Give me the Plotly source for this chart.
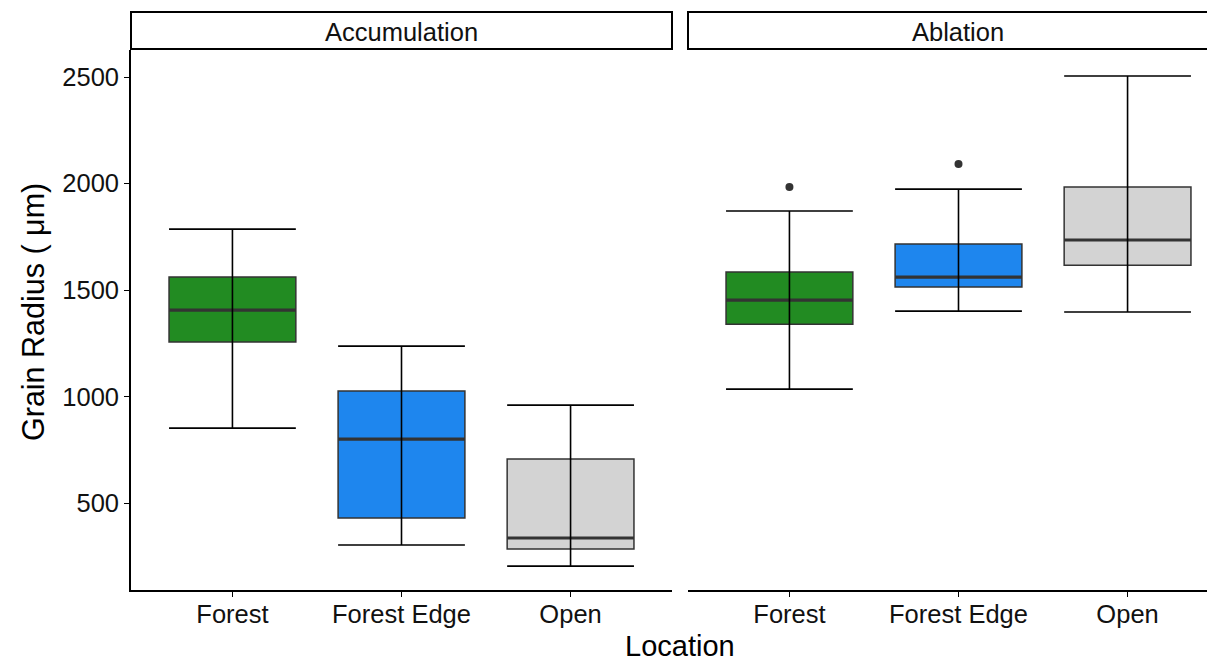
import plotly.graph_objects as go

# ---- data ----
panels = ["Accumulation", "Ablation"]
locations = ["Forest", "Forest Edge", "Open"]
colors = ["#228B22", "#1E86EE", "#D3D3D3"]
y_ticks = [500, 1000, 1500, 2000, 2500]

acc_low = [852, 303, 204]
acc_q1 = [1256, 430, 284]
acc_med = [1406, 800, 336]
acc_q3 = [1561, 1026, 707]
acc_high = [1786, 1237, 960]
acc_out_x = []
acc_out_y = []

abl_low = [1035, 1401, 1397]
abl_q1 = [1340, 1514, 1617]
abl_med = [1453, 1561, 1735]
abl_q3 = [1585, 1716, 1984]
abl_high = [1871, 1974, 2505]
abl_out_x = [1, 2]
abl_out_y = [1984, 2092]

# page has an 8px body margin: compensate so the plot lands where the reference has it
OFF = 8
W, H = 1215 - OFF, 661 - OFF
ML, MR, MT, MB = 131 - OFF, 0, 50 - OFF, 71
PW = W - ML - MR
PH = H - MT - MB
px_unit = 541 / 3.2
d1 = [0, 541 / PW]
d2 = [(688 - 131) / PW, 1]
x2max = 0.4 + (1215 - 688) / px_unit

fig = go.Figure()
xs = [1, 2, 3]
box_w = 0.75
cap_px = box_w * px_unit / 2

data = [
    (acc_low, acc_q1, acc_med, acc_q3, acc_high, acc_out_x, acc_out_y, "x", "y"),
    (abl_low, abl_q1, abl_med, abl_q3, abl_high, abl_out_x, abl_out_y, "x2", "y2"),
]
for low, q1, med, q3, high, ox, oy, xa, ya in data:
    for i in range(3):
        fig.add_trace(go.Box(
            x=[xs[i]], q1=[q1[i]], median=[med[i]], q3=[q3[i]],
            lowerfence=[q1[i]], upperfence=[q3[i]],
            width=box_w, fillcolor=colors[i],
            line=dict(color="#333333", width=1.5),
            whiskerwidth=0, boxpoints=False, showlegend=False,
            xaxis=xa, yaxis=ya, hoverinfo="skip"))
    # thick median
    fig.add_trace(go.Scatter(
        x=xs, y=med, mode="markers", marker=dict(size=0.1, color="rgba(0,0,0,0)"),
        error_x=dict(type="constant", value=box_w / 2, width=0, thickness=3.2, color="#333333"),
        showlegend=False, xaxis=xa, yaxis=ya, hoverinfo="skip"))
    # whiskers with caps
    fig.add_trace(go.Scatter(
        x=xs, y=med, mode="markers", marker=dict(size=0.1, color="rgba(0,0,0,0)"),
        error_y=dict(type="data", symmetric=False,
                     array=[high[i] - med[i] for i in range(3)],
                     arrayminus=[med[i] - low[i] for i in range(3)],
                     width=cap_px, thickness=1.6, color="black"),
        showlegend=False, xaxis=xa, yaxis=ya, hoverinfo="skip"))
    if ox:
        fig.add_trace(go.Scatter(
            x=ox, y=oy, mode="markers", marker=dict(size=8, color="#333333"),
            showlegend=False, xaxis=xa, yaxis=ya, hoverinfo="skip"))

font = "Liberation Sans, Arial, sans-serif"
tfs = 25.5
yr = [92, 2627]
xaxis_common = dict(range=[0.4, 3.6], tickvals=xs, ticktext=locations,
                    showline=True, linecolor="black", linewidth=1.8,
                    ticks="outside", ticklen=5, tickcolor="black", tickwidth=1.4,
                    ticklabelstandoff=-5,
                    showgrid=False, zeroline=False,
                    tickfont=dict(size=tfs, color="#111111", family=font))
fig.update_layout(
    width=W, height=H,
    margin=dict(l=ML, r=MR, t=MT, b=MB),
    paper_bgcolor="white", plot_bgcolor="white",
    font=dict(family=font),
    xaxis=dict(domain=d1, anchor="y", **xaxis_common),
    xaxis2=dict(domain=d2, anchor="y2", **{**xaxis_common, "range": [0.4, x2max]}),
    yaxis=dict(domain=[0, 1], range=yr, anchor="x",
               tickvals=y_ticks,
               showline=True, linecolor="black", linewidth=1.8,
               ticks="outside", ticklen=5, tickcolor="black", tickwidth=1.4,
               showgrid=False, zeroline=False,
               tickfont=dict(size=tfs, color="#111111", family=font)),
    yaxis2=dict(domain=[0, 1], range=yr, anchor="x2", matches="y",
                showticklabels=False, showline=False, ticks="",
                showgrid=False, zeroline=False),
)

strip_h = 38 / PH
shapes = []
annotations = []
for name, d in zip(panels, [d1, [d2[0], 1.02]]):
    shapes.append(dict(type="rect", xref="paper", yref="paper",
                       x0=d[0], x1=d[1], y0=1 + 1 / PH, y1=1 + strip_h,
                       line=dict(color="black", width=2), fillcolor="white"))
for name, d in zip(panels, [d1, [d2[0], (1228 - 131) / PW]]):
    annotations.append(dict(text=name, xref="paper", yref="paper",
                            x=(d[0] + d[1]) / 2, y=1 + 18 / PH,
                            showarrow=False, xanchor="center", yanchor="middle",
                            font=dict(size=tfs, color="#111111", family=font)))
annotations.append(dict(text="Location", xref="paper", yref="paper",
                        x=(680 - 131) / PW, y=-(646 - 590) / PH,
                        xanchor="center", yanchor="middle",
                        showarrow=False, font=dict(size=29, color="black", family=font)))
annotations.append(dict(text="Grain Radius ( μm)", xref="paper", yref="paper",
                        x=(33 - 131) / PW, y=1 - (312 - 50) / PH, xanchor="center",
                        yanchor="middle", textangle=-90,
                        showarrow=False, font=dict(size=30.5, color="black", family=font)))
fig.update_layout(shapes=shapes, annotations=annotations)

fig.write_html("out.html")
